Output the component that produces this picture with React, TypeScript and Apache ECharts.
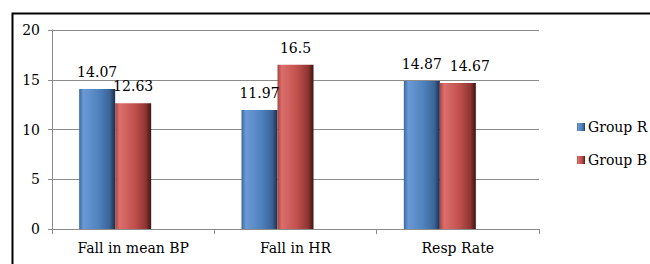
import React, { useEffect, useRef } from "react";
import * as echarts from "echarts";

const categories = ["Fall in mean BP", "Fall in HR", "Resp Rate"];
const groupR = [14.07, 11.97, 14.87];
const groupB = [12.63, 16.5, 14.67];
const yTicks = { min: 0, max: 20, interval: 5 };

const FONT = "DejaVu Serif";
const FS = 14;

function barGrad(stops: string[]) {
  return new echarts.graphic.LinearGradient(0, 0, 1, 0, [
    { offset: 0, color: stops[0] },
    { offset: 0.12, color: stops[1] },
    { offset: 0.55, color: stops[2] },
    { offset: 0.85, color: stops[3] },
    { offset: 1, color: stops[4] },
  ]);
}

export default function App() {
  const ref = useRef<HTMLDivElement>(null);
  useEffect(() => {
    if (!ref.current) return;
    const chart = echarts.init(ref.current, undefined, { renderer: "svg" });
    const labelStyle = {
      show: true,
      position: "top" as const,
      distance: 10,
      fontFamily: FONT,
      fontSize: FS,
      color: "#000",
    };
    // Last label of Group B is nudged right in the original to avoid overlap
    const groupBData = groupB.map((v, i) =>
      i === groupB.length - 1 ? { value: v, label: { offset: [12, 0] } } : v
    );
    chart.setOption({
      animation: false,
      backgroundColor: "#fff",
      textStyle: { fontFamily: FONT },
      grid: { left: 52, right: 111, top: 30, bottom: 35 },
      legend: {
        orient: "vertical",
        left: 572,
        top: 115,
        itemWidth: 8,
        itemHeight: 8,
        itemGap: 19,
        icon: "rect",
        data: ["Group R", "Group B"],
        textStyle: { fontFamily: FONT, fontSize: FS, color: "#000", padding: [0, 0, 0, -2] },
      },
      xAxis: {
        type: "category",
        data: categories,
        axisLine: { lineStyle: { color: "#8c8c8c", width: 1 } },
        axisTick: { show: true, length: 5, lineStyle: { color: "#8c8c8c" } },
        axisLabel: { fontFamily: FONT, fontSize: FS, color: "#000", margin: 12 },
      },
      yAxis: {
        type: "value",
        min: yTicks.min,
        max: yTicks.max,
        interval: yTicks.interval,
        axisLine: { show: true, lineStyle: { color: "#8c8c8c", width: 1 } },
        axisTick: { show: true, length: 4, lineStyle: { color: "#8c8c8c" } },
        splitLine: { lineStyle: { color: "#8c8c8c", width: 1 } },
        axisLabel: { fontFamily: FONT, fontSize: FS, color: "#000", margin: 12 },
      },
      series: [
        {
          name: "Group R",
          type: "bar",
          data: groupR,
          barWidth: 36,
          barGap: "0%",
          itemStyle: {
            color: barGrad(["#3c679c", "#6a9ad6", "#4f81bd", "#3a6497", "#1b2f4a"]),
          },
          label: labelStyle,
        },
        {
          name: "Group B",
          type: "bar",
          data: groupBData,
          barWidth: 36,
          barGap: "0%",
          itemStyle: {
            color: barGrad(["#a84441", "#dc6e6b", "#c0504d", "#8e3532", "#3e1413"]),
          },
          label: labelStyle,
        },
        {
          name: "spacer",
          type: "bar",
          data: [0, 0, 0],
          barWidth: 36,
          barGap: "0%",
          itemStyle: { color: "rgba(0,0,0,0)" },
          silent: true,
        },
      ],
      graphic: [
        {
          type: "rect",
          left: 10,
          top: 11,
          shape: { width: 700, height: 300 },
          style: { fill: "none", stroke: "#000", lineWidth: 2 },
          silent: true,
        },
      ],
    });
    return () => chart.dispose();
  }, []);
  return (
    <div
      ref={ref}
      style={{ position: "fixed", left: 0, top: 0, width: 650, height: 264 }}
    />
  );
}
